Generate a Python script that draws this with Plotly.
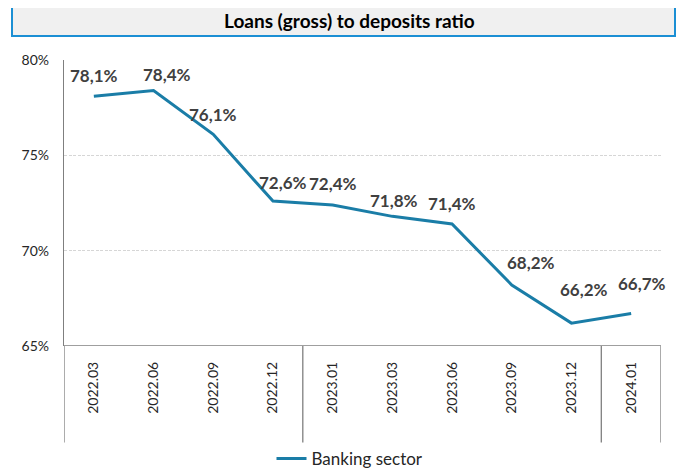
import plotly.graph_objects as go

# ---- data ----
categories = ["2022.03", "2022.06", "2022.09", "2022.12", "2023.01",
              "2023.03", "2023.06", "2023.09", "2023.12", "2024.01"]
banking_sector = [78.1, 78.4, 76.1, 72.6, 72.4, 71.8, 71.4, 68.2, 66.2, 66.7]
series_name = "Banking sector"
title_text = "Loans (gross) to deposits ratio"
y_ticks = [65, 70, 75, 80]
y_tick_labels = ["65%", "70%", "75%", "80%"]
group_boundaries = [-0.5, 3.5, 8.5, 9.5]   # category-axis group separators

# ---- styling (label nudges, in px) ----
label_dx = [0, 13, 0, 10, 0, 2, 0, 19, 13, 11]
label_dy = [21, 16, 20, 19, 21, 16, 20, 22, 34, 30]

OFF = 8                      # page body margin of the browser
W, H = 684 - 2 * OFF, 476 - 2 * OFF   # fit the window without scrollbars
PX0, PY0, PW, PH = 64, 60, 597, 286   # plot area in window pixels
L, T = PX0 - OFF, PY0 - OFF
R, B = W - L - PW, H - T - PH

def px_x(p):
    return (p - PX0) / PW

def px_y(p):
    return (PY0 + PH - p) / PH

FONT = "Lato, 'Open Sans', sans-serif"
LINE_COLOR = "#1A7DA7"
AXIS_COLOR = "#7F7F7F"

fig = go.Figure()
fig.add_trace(go.Scatter(
    x=list(range(len(categories))), y=banking_sector, mode="lines",
    name=series_name, line=dict(color=LINE_COLOR, width=3), showlegend=True,
))

for i, v in enumerate(banking_sector):
    fig.add_annotation(
        x=i, y=v, xref="x", yref="y",
        text=f"{v:.1f}%".replace(".", ","),
        showarrow=False, xanchor="center", yanchor="middle",
        xshift=label_dx[i], yshift=label_dy[i],
        font=dict(family=FONT, size=17, color="#404040", weight="bold"),
    )

# title box
fig.add_shape(type="rect", xref="paper", yref="paper",
              x0=px_x(12), x1=px_x(675), y0=px_y(36), y1=px_y(5),
              fillcolor="#F0F0F0", line=dict(color="#1B8FD4", width=2),
              layer="below")
fig.add_annotation(xref="paper", yref="paper", x=px_x(349), y=px_y(21),
                   text=title_text, showarrow=False,
                   xanchor="center", yanchor="middle",
                   font=dict(family=FONT, size=19, color="#000000", weight="bold"))

# group separator lines below the category axis
for gb in group_boundaries:
    fig.add_shape(type="line", xref="x", yref="paper",
                  x0=gb, x1=gb, y0=0, y1=px_y(442.5),
                  line=dict(color=AXIS_COLOR, width=1.3))

fig.update_layout(
    width=W, height=H,
    margin=dict(l=L, r=R, t=T, b=B, autoexpand=False),
    paper_bgcolor="white", plot_bgcolor="white",
    font=dict(family=FONT, color="#262626"),
    legend=dict(orientation="h", x=px_x(350), y=px_y(459),
                xanchor="center", yanchor="middle",
                font=dict(family=FONT, size=17, color="#262626"),
                bgcolor="rgba(0,0,0,0)"),
    xaxis=dict(
        range=[-0.5, 9.5], tickvals=list(range(len(categories))),
        ticktext=categories,
        showgrid=False, showline=False, zeroline=False,
        tickangle=-90, ticks="", ticklabelstandoff=12,
        tickfont=dict(family=FONT, size=14, color="#262626"),
    ),
    yaxis=dict(
        range=[65, 80], tickvals=y_ticks, ticktext=y_tick_labels,
        showgrid=True, gridcolor="#D6D6D6", griddash="3px,1.5px", gridwidth=1,
        showline=True, linecolor=AXIS_COLOR, linewidth=1.3,
        zeroline=False, ticks="", ticklabelstandoff=11,
        tickfont=dict(family=FONT, size=14, color="#262626"),
    ),
)

# x axis baseline at 65%
fig.add_shape(type="line", xref="paper", yref="y", x0=0, x1=1, y0=65, y1=65,
              line=dict(color=AXIS_COLOR, width=1.3))

fig.write_html("out.html")
